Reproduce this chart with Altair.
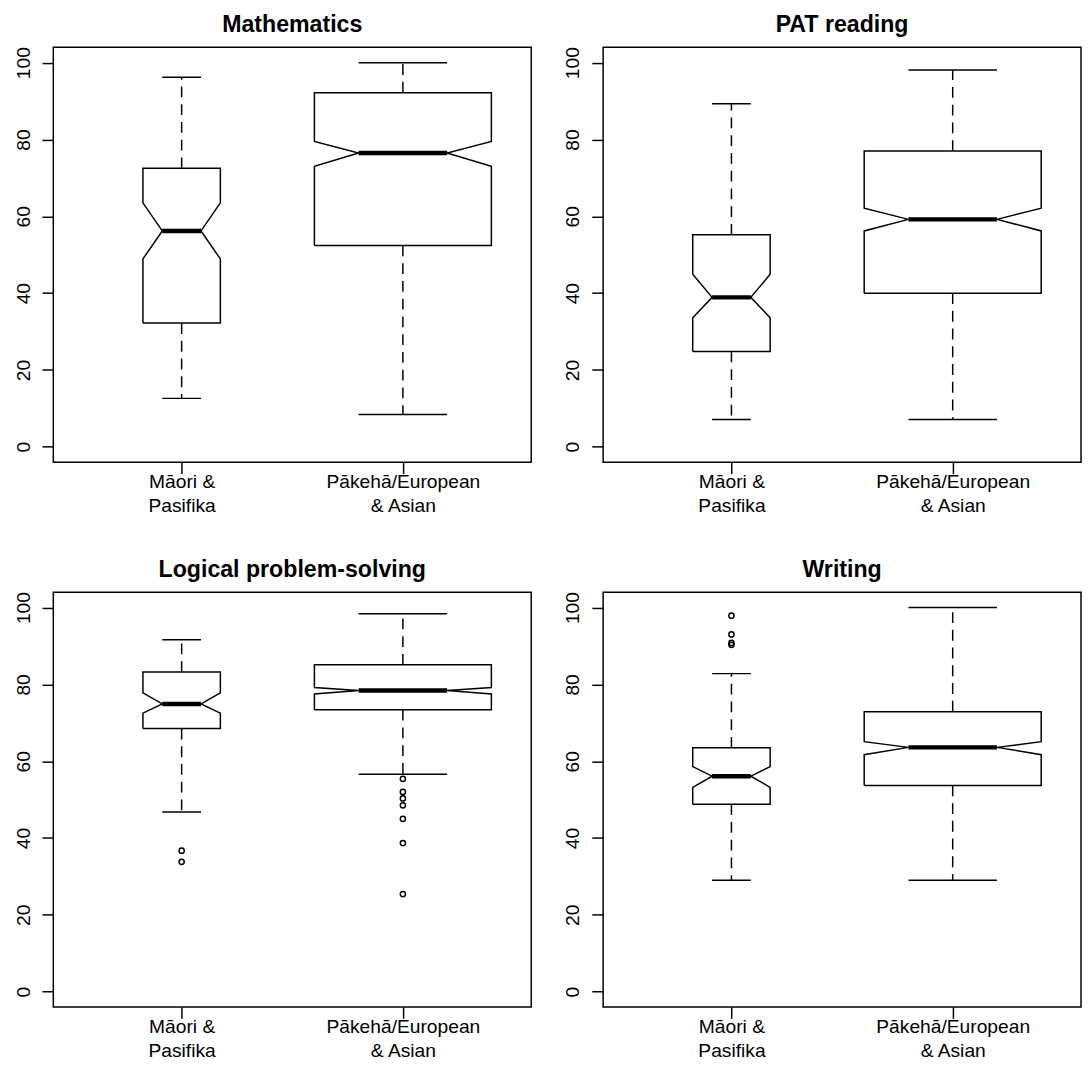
import altair as alt
import pandas as pd

# ---------------- data ----------------
subjects = ["Mathematics", "PAT reading", "Logical problem-solving", "Writing"]
group_lines = [["Māori &", "Pasifika"], ["Pākehā/European", "& Asian"]]
group_pos = [1, 2]
y_ticks = [0, 20, 40, 60, 80, 100]

# per subject: [Māori & Pasifika, Pākehā/European & Asian]
lower_whisker = [[12.6, 8.4], [7.1, 7.1], [46.8, 56.6], [29.0, 29.0]]
q1 = [[32.2, 52.4], [24.8, 40.0], [68.5, 73.4], [48.8, 53.7]]
notch_low = [[48.9, 73.0], [33.6, 56.2], [72.5, 77.5], [53.2, 61.7]]
median = [[56.2, 76.5], [38.9, 59.2], [74.9, 78.4], [56.1, 63.6]]
notch_high = [[63.5, 79.5], [44.9, 62.1], [77.8, 79.2], [58.6, 65.1]]
q3 = [[72.5, 92.2], [55.2, 77.0], [83.2, 85.1], [63.5, 72.9]]
upper_whisker = [[96.2, 100.0], [89.3, 98.1], [91.6, 98.4], [82.8, 100.0]]
outliers = [
    [[], []],
    [[], []],
    [[36.7, 33.8], [55.4, 52.0, 50.3, 48.5, 45.0, 38.7, 25.4]],
    [[97.9, 93.0, 90.8, 90.3], []],
]

# ---------------- layout / style constants ----------------
BOX_WIDTH = [0.35, 0.8]      # relative box widths (varwidth)
NOTCH_FRAC = 0.5
STAPLE_FRAC = 0.5
FONT = "Liberation Sans"
LW = 1.5
LABEL_SIZE = 19.5

label_expr = (
    "datum.value < 1.5 ? "
    + "[" + ",".join("'" + s + "'" for s in group_lines[0]) + "]"
    + " : "
    + "[" + ",".join("'" + s + "'" for s in group_lines[1]) + "]"
)

xscale = alt.Scale(domain=[0.42, 2.58], nice=False, zero=False)
yscale = alt.Scale(domain=[-4, 104], nice=False, zero=False)
xaxis = alt.Axis(values=group_pos, labelExpr=label_expr, title=None,
                 labelAngle=0, labelAlign="center", labelBaseline="alphabetic")
yaxis = alt.Axis(values=y_ticks, title=None, labelAngle=270,
                 labelAlign="center", labelBaseline="alphabetic")


def panel(i, width, height):
    poly, med, whisk, staple, outl = [], [], [], [], []
    for g in range(2):
        c = group_pos[g]
        hw = BOX_WIDTH[g] / 2
        seq = [(-1, q1[i][g]), (1, q1[i][g]), (1, notch_low[i][g]),
               (NOTCH_FRAC, median[i][g]), (1, notch_high[i][g]),
               (1, q3[i][g]), (-1, q3[i][g]), (-1, notch_high[i][g]),
               (-NOTCH_FRAC, median[i][g]), (-1, notch_low[i][g]),
               (-1, q1[i][g])]
        for k, (f, v) in enumerate(seq):
            poly.append({"g": g, "o": k, "x": c + f * hw, "y": v})
        med.append({"x1": c - NOTCH_FRAC * hw, "x2": c + NOTCH_FRAC * hw,
                    "y": median[i][g]})
        whisk.append({"x": c, "y1": q3[i][g], "y2": upper_whisker[i][g]})
        whisk.append({"x": c, "y1": q1[i][g], "y2": lower_whisker[i][g]})
        staple.append({"x1": c - STAPLE_FRAC * hw, "x2": c + STAPLE_FRAC * hw,
                       "y": upper_whisker[i][g]})
        staple.append({"x1": c - STAPLE_FRAC * hw, "x2": c + STAPLE_FRAC * hw,
                       "y": lower_whisker[i][g]})
        for v in outliers[i][g]:
            outl.append({"x": c, "y": v})

    X = lambda f: alt.X(f, type="quantitative", scale=xscale, axis=xaxis, title=None)
    Y = lambda f: alt.Y(f, type="quantitative", scale=yscale, axis=yaxis, title=None)

    box = alt.Chart(pd.DataFrame(poly)).mark_line(
        color="black", strokeWidth=LW, strokeJoin="miter"
    ).encode(x=X("x"), y=Y("y"), detail="g:N", order="o:Q")

    wh = alt.Chart(pd.DataFrame(whisk)).mark_rule(
        color="black", strokeWidth=LW, strokeDash=[11, 7]
    ).encode(x=X("x"), y=Y("y1"), y2="y2")

    st = alt.Chart(pd.DataFrame(staple)).mark_rule(
        color="black", strokeWidth=LW
    ).encode(x=X("x1"), x2="x2", y=Y("y"))

    md = alt.Chart(pd.DataFrame(med)).mark_rule(
        color="black", strokeWidth=4.5
    ).encode(x=X("x1"), x2="x2", y=Y("y"))

    layers = [wh, st, box, md]
    if outl:
        pts = alt.Chart(pd.DataFrame(outl)).mark_point(
            shape="circle", filled=False, color="black", strokeWidth=LW,
            size=28, opacity=1
        ).encode(x=X("x"), y=Y("y"))
        layers.append(pts)

    return alt.layer(*layers).properties(
        width=width, height=height, title=subjects[i]
    )


row1 = alt.hconcat(panel(0, 485, 421), panel(1, 485, 421), spacing=30)
row2 = alt.hconcat(panel(2, 485, 421), panel(3, 485, 421), spacing=30)

chart = alt.vconcat(row1, row2, spacing=42).properties(
    padding={"left": 4, "top": -3, "right": 0, "bottom": 0},
    background="white",
).configure_view(
    stroke="black", strokeWidth=LW, fill="white"
).configure_axis(
    domain=False, grid=False, tickColor="black", tickWidth=LW, tickSize=11.5,
    labelColor="black", labelFont=FONT, labelFontSize=LABEL_SIZE,
    labelFlush=False, labelOverlap=False,
).configure_axisX(
    labelPadding=14, labelLineHeight=25,
).configure_axisY(
    labelPadding=13,
).configure_title(
    font=FONT, fontSize=23.5, fontWeight="bold", color="black",
    anchor="middle", baseline="alphabetic", offset=10, frame="group",
)

chart.save("out.html", embed_options={"renderer": "svg", "actions": False})
